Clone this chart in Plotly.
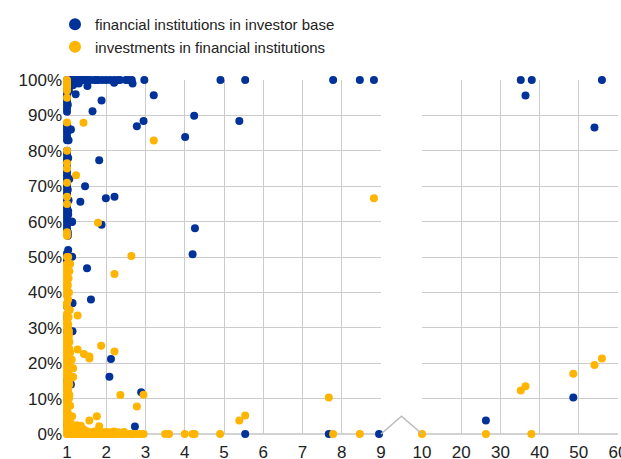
import plotly.graph_objects as go

# ---------------- data (x = ratio, y = share) ----------------
blue_x = [
    # column at x ~ 1
    1.0, 1.0, 1.0, 1.0, 1.0, 1.0, 1.0, 1.0, 1.0, 1.0, 1.0, 1.0, 1.0, 1.0, 1.0, 1.0,
    1.0, 1.0, 1.0, 1.0, 1.0, 1.0, 1.0, 1.0, 1.0, 1.0, 1.0, 1.0, 1.0, 1.0, 1.0, 1.0,
    1.0, 1.0, 1.0, 1.0, 1.0, 1.0, 1.0, 1.0, 1.0, 1.0, 1.0, 1.0,
    1.03, 1.05, 1.08, 1.1, 1.04, 1.06, 1.03, 1.12, 1.02, 1.04, 1.13, 1.14, 1.1, 1.05,
    1.02, 1.03, 1.02, 1.04, 1.03, 1.02, 1.03,
    # top row
    1.05, 1.1, 1.15, 1.2, 1.25, 1.3, 1.35, 1.4, 1.45, 1.5, 1.55, 1.6, 1.7, 1.75,
    1.8, 1.9, 2.0, 2.1, 2.2, 2.3, 2.35, 2.5, 2.57, 2.65, 2.97, 4.91, 5.54,
    7.78, 8.46, 8.82,
    1.1, 1.2, 1.3, 1.52, 2.2, 2.67, 1.15,
    # scattered
    1.22, 3.21, 1.88, 1.65, 4.24, 2.95, 2.78, 5.39, 4.01, 1.82, 1.46, 1.34, 1.99,
    2.21, 1.88, 4.26, 4.20, 1.13, 1.13, 1.51, 1.61, 1.14, 2.12, 2.08, 2.89, 2.73,
    5.54, 7.67, 8.95,
    # right panel
    35.2, 38.0, 55.9, 36.4, 54.0, 26.3, 48.6,
]
blue_y = [
    1.00, 0.99, 0.98, 0.97, 0.96, 0.95, 0.94, 0.93, 0.92, 0.91, 0.87, 0.86, 0.85,
    0.84, 0.83, 0.80, 0.79, 0.78, 0.77, 0.76, 0.74, 0.73, 0.72, 0.71, 0.70, 0.69,
    0.68, 0.66, 0.64, 0.63, 0.62, 0.61, 0.60, 0.59, 0.58, 0.51, 0.50, 0.49, 0.36,
    0.33, 0.29, 0.15, 0.10, 0.03,
    0.99, 0.97, 0.86, 0.86, 0.83, 0.72, 0.62, 0.60, 0.56, 0.50, 0.37, 0.29, 0.14, 0.05,
    0.93, 0.78, 0.69, 0.66, 0.63, 0.57, 0.52,
    1.00, 1.00, 1.00, 1.00, 1.00, 1.00, 1.00, 1.00, 1.00, 1.00, 1.00, 1.00, 1.00, 1.00,
    1.00, 1.00, 1.00, 1.00, 1.00, 1.00, 1.00, 1.00, 1.00, 1.00, 1.00, 1.00, 1.00,
    1.00, 1.00, 1.00,
    0.99, 0.99, 0.99, 0.983, 0.992, 0.99, 0.985,
    0.960, 0.957, 0.942, 0.912, 0.899, 0.884, 0.869, 0.884, 0.839, 0.773, 0.700,
    0.656, 0.666, 0.670, 0.591, 0.581, 0.508, 0.599, 0.501, 0.468, 0.380, 0.369,
    0.212, 0.162, 0.118, 0.021, 0.0, 0.0, 0.0,
    1.00, 1.00, 1.00, 0.956, 0.866, 0.038, 0.103,
]

orange_x = [
    # column at x ~ 1
    1.0, 1.0, 1.0, 1.0, 1.0, 1.0, 1.0, 1.0, 1.0, 1.0, 1.0, 1.0, 1.0, 1.0,
    1.0, 1.0, 1.0, 1.0, 1.0, 1.0, 1.0, 1.0, 1.0, 1.0, 1.0, 1.0, 1.0, 1.0,
    1.0, 1.0, 1.0, 1.0, 1.0, 1.0, 1.0, 1.0, 1.0, 1.0, 1.0, 1.0, 1.0, 1.0,
    1.0, 1.0, 1.0, 1.0, 1.0, 1.0, 1.0, 1.0, 1.0, 1.0, 1.0, 1.0, 1.0, 1.0,
    1.0, 1.0, 1.0, 1.0, 1.0, 1.0, 1.0, 1.0, 1.0, 1.0, 1.0, 1.0,
    1.03, 1.05, 1.04, 1.06, 1.08, 1.03, 1.1, 1.05, 1.12, 1.07, 1.04, 1.1, 1.06,
    1.03, 1.05, 1.08, 1.15, 1.15, 1.13, 1.1, 1.06, 1.04,
    1.03, 1.05, 1.02, 1.04, 1.06, 1.03, 1.05, 1.02, 1.04, 1.06, 1.03, 1.05,
    1.02, 1.04, 1.07, 1.03, 1.05, 1.02, 1.04, 1.06, 1.08, 1.03,
    # bottom row
    1.0, 1.05, 1.1, 1.15, 1.2, 1.25, 1.3, 1.35, 1.4, 1.45, 1.5, 1.55, 1.6,
    1.65, 1.7, 1.75, 1.8, 1.85, 1.9, 1.95, 2.0, 2.05, 2.1, 2.15, 2.2, 2.25,
    2.3, 2.4, 2.5, 2.6, 2.65, 2.7, 2.8, 2.85, 2.95, 3.5, 3.6, 4.0, 4.2, 4.25,
    4.9, 7.78, 8.46,
    1.1, 1.2, 1.3, 1.4, 1.5, 1.6, 1.7, 1.8, 1.9, 2.0, 2.1, 2.2, 2.3, 2.45,
    # low cluster
    1.2, 1.25, 1.3, 1.35, 1.4, 1.45, 1.5, 1.22, 1.32,
    # scattered
    1.42, 3.21, 1.23, 1.79, 2.64, 2.21, 1.27, 1.87, 2.21, 1.27, 1.43, 1.57, 1.57,
    1.15, 1.15, 2.95, 2.36, 2.78, 1.76, 1.57, 1.82, 5.39, 5.54, 8.82, 7.67,
    # right panel
    10.0, 26.3, 37.9, 35.2, 36.4, 48.6, 54.0, 55.9,
]
orange_y = [
    0.00, 0.01, 0.02, 0.03, 0.04, 0.05, 0.06, 0.07, 0.08, 0.09, 0.10, 0.11, 0.12,
    0.13, 0.14, 0.15, 0.16, 0.17, 0.18, 0.19, 0.20, 0.21, 0.22, 0.23, 0.24, 0.25,
    0.26, 0.27, 0.28, 0.29, 0.30, 0.31, 0.32, 0.33, 0.34, 0.36, 0.37, 0.39, 0.40,
    0.41, 0.42, 0.43, 0.44, 0.45, 0.46, 0.47, 0.48, 0.50, 0.56, 0.57, 0.65, 0.67,
    0.71, 0.75, 0.765, 0.80, 0.88, 0.95, 0.97, 0.98, 0.99, 1.00, 0.995, 0.985,
    0.035, 0.065, 0.105, 0.135,
    0.31, 0.29, 0.27, 0.26, 0.23, 0.22, 0.21, 0.20, 0.21, 0.19, 0.17, 0.16, 0.14,
    0.12, 0.10, 0.08, 0.186, 0.161, 0.05, 0.03, 0.02, 0.01,
    0.02, 0.04, 0.06, 0.08, 0.11, 0.13, 0.15, 0.18, 0.20, 0.24, 0.26, 0.28,
    0.30, 0.33, 0.35, 0.38, 0.40, 0.42, 0.44, 0.46, 0.48, 0.50,
    0.0, 0.0, 0.0, 0.0, 0.0, 0.0, 0.0, 0.0, 0.0, 0.0, 0.0, 0.0, 0.0,
    0.0, 0.0, 0.0, 0.0, 0.0, 0.0, 0.0, 0.0, 0.0, 0.0, 0.0, 0.0, 0.0,
    0.0, 0.0, 0.0, 0.0, 0.0, 0.0, 0.0, 0.0, 0.0, 0.0, 0.0, 0.0, 0.0, 0.0,
    0.0, 0.0, 0.0,
    0.006, 0.007, 0.005, 0.008, 0.006, 0.005, 0.007, 0.006, 0.005, 0.006, 0.005,
    0.007, 0.005, 0.006,
    0.02, 0.025, 0.02, 0.023, 0.015, 0.01, 0.008, 0.012, 0.005,
    0.879, 0.829, 0.731, 0.597, 0.503, 0.452, 0.335, 0.249, 0.233, 0.239, 0.226,
    0.213, 0.219, 0.186, 0.161, 0.111, 0.110, 0.078, 0.050, 0.038, 0.022, 0.038,
    0.052, 0.666, 0.103,
    0.0, 0.0, 0.0, 0.123, 0.135, 0.170, 0.195, 0.213,
]

series_names = ["financial institutions in investor base",
                "investments in financial institutions"]
series_colors = ["#003299", "#FFB400"]

left_range = [1, 9]
right_range = [10, 60]
left_ticks = [1, 2, 3, 4, 5, 6, 7, 8, 9]
right_ticks = [10, 20, 30, 40, 50, 60]
right_ticktext = ["10", "20", "30", "40", "50", "60"]

# ---------------- figure ----------------
fig = go.Figure()
split = 9.5
for name, color, xs, ys in [(series_names[0], series_colors[0], blue_x, blue_y),
                            (series_names[1], series_colors[1], orange_x, orange_y)]:
    lx = [x for x in xs if x <= split]
    ly = [y for x, y in zip(xs, ys) if x <= split]
    rx = [x for x in xs if x > split]
    ry = [y for x, y in zip(xs, ys) if x > split]
    fig.add_trace(go.Scatter(x=lx, y=ly, mode="markers", name=name, showlegend=False,
                             marker=dict(color=color, size=8, line=dict(width=0)),
                             xaxis="x", yaxis="y", cliponaxis=False, legendgroup=name,
                             hoverinfo="skip"))
    fig.add_trace(go.Scatter(x=rx, y=ry, mode="markers", name=name, showlegend=False,
                             marker=dict(color=color, size=8, line=dict(width=0)),
                             xaxis="x2", yaxis="y2", cliponaxis=False, legendgroup=name,
                             hoverinfo="skip"))
    # legend entry (larger symbol as in the reference)
    fig.add_trace(go.Scatter(x=[None], y=[None], mode="markers", name=name,
                             marker=dict(color=color, size=12, line=dict(width=0)),
                             xaxis="x", yaxis="y", legendgroup=name))

L, R, T, B = 67, 3, 80, 25
W = 621 - L - R
d_left_end = (381 - L) / W
d_right_start = (422 - L) / W

font = dict(family="Liberation Sans, Arial, sans-serif", size=15, color="#222222")
tfont = dict(family="Liberation Sans, Arial, sans-serif", size=17, color="#222222")
grid = "#cccccc"

fig.update_layout(
    template="none",
    width=621, height=459,
    margin=dict(l=L, r=R, t=T, b=B, autoexpand=False),
    paper_bgcolor="white", plot_bgcolor="white",
    font=font,
    showlegend=True,
    hovermode=False,
    legend=dict(x=55 / 621, y=1 - 8 / 459, xref="container", yref="container",
                xanchor="left", yanchor="top",
                bgcolor="rgba(0,0,0,0)", font=font, tracegroupgap=0),
    xaxis=dict(domain=[0, d_left_end], range=left_range, tickvals=left_ticks,
               showgrid=True, gridcolor=grid, gridwidth=1, zeroline=False,
               showline=False, ticks="", tickfont=tfont, anchor="y", automargin=False,
               ticklabelstandoff=6),
    xaxis2=dict(domain=[d_right_start, 1], range=right_range, tickvals=right_ticks,
                ticktext=right_ticktext, showgrid=True, gridcolor=grid, gridwidth=1,
                zeroline=False, showline=False, ticks="", tickfont=tfont, anchor="y2",
                ticklabeloverflow="allow", automargin=False, ticklabelstandoff=6),
    yaxis=dict(range=[0, 1], dtick=0.1, tickformat=".0%", showgrid=True,
               gridcolor=grid, gridwidth=1, zeroline=False, showline=False,
               ticks="", tickfont=tfont, anchor="x", automargin=False,
               ticklabelstandoff=4),
    yaxis2=dict(range=[0, 1], dtick=0.1, showgrid=True, gridcolor=grid, gridwidth=1,
                zeroline=False, showline=False, showticklabels=False, anchor="x2",
                matches="y", automargin=False),
)

# axis break marker (zig-zag between panels)
mid = (d_left_end + d_right_start) / 2
fig.add_shape(type="path", xref="paper", yref="paper",
              path=f"M {d_left_end} 0 L {mid} 0.05 L {d_right_start} 0",
              line=dict(color="#bbbbbb", width=1.5))
# baseline lines (slightly stronger)
fig.add_shape(type="line", xref="paper", yref="paper", x0=0, x1=d_left_end, y0=0, y1=0,
              line=dict(color="#c4c4c4", width=1.5), layer="below")
fig.add_shape(type="line", xref="paper", yref="paper", x0=d_right_start, x1=1, y0=0, y1=0,
              line=dict(color="#c4c4c4", width=1.5), layer="below")

fig.write_html("out.html", config={"displayModeBar": False, "staticPlot": True},
               post_script="document.body.style.margin='0';document.body.style.overflow='hidden';")
